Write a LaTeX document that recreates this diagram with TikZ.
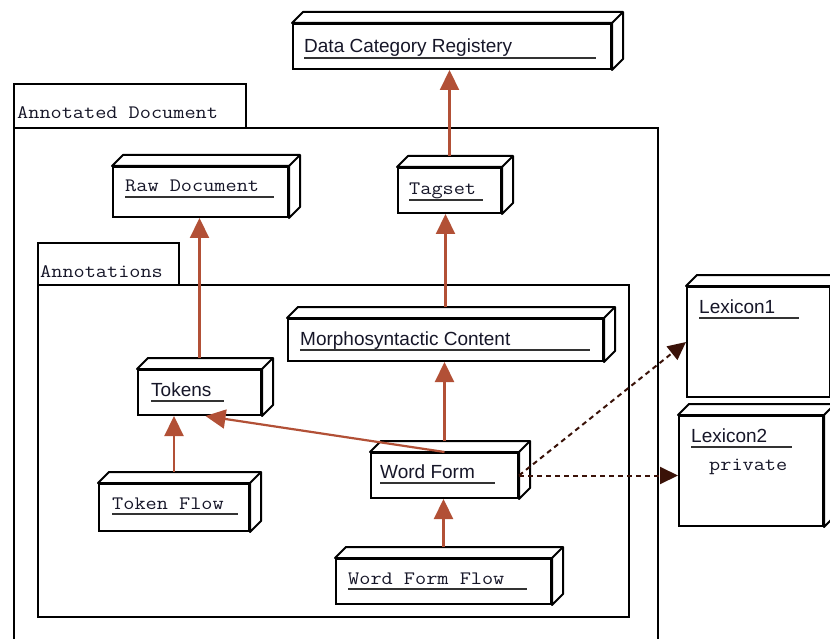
\documentclass[tikz,border=0pt]{standalone}
\usepackage{fontspec}
\setmainfont{Liberation Sans}
\setmonofont{Latin Modern Mono}[FakeStretch=1.14]
\usepackage{tikz}
\usetikzlibrary{arrows.meta}
\definecolor{deparrow}{RGB}{178,80,54}
\definecolor{usearrow}{RGB}{58,18,8}
\definecolor{labeltext}{RGB}{22,22,40}
\tikzset{
  umlpkg/.style  = {draw, line width=2pt, fill=white, anchor=north west, inner sep=0pt},
  umlnode/.style = {draw, line width=2pt, fill=white, anchor=north west, inner sep=0pt},
  nodelab/.style = {anchor=base west, inner sep=0pt, text=labeltext,
                    font=\fontsize{19}{23}\selectfont},
  monolab/.style = {nodelab, font=\fontsize{19}{23}\selectfont\ttfamily},
  uline/.style   = {line width=1.3pt, black!80},
  dep/.style     = {-{Triangle[length=20pt,width=19pt]}, line width=2.2pt, deparrow},
  uses/.style    = {-{Triangle[length=18pt,width=17pt]}, line width=2pt, usearrow,
                    dash pattern=on 5pt off 4pt},
}
% top and side face of a uml node
\newcommand{\nodedepth}[1]{%
  \filldraw[fill=white, line width=2pt, line join=round]
    (#1.north west) -- ++(11pt,11pt) -- ([shift={(11pt,11pt)}]#1.north east)
    -- ([shift={(11pt,11pt)}]#1.south east) -- (#1.south east) -- (#1.north east) -- cycle;
  \draw[line width=2pt] (#1.north east) -- ++(11pt,11pt);}
% label with its underline
\newcommand{\nodelabel}[5][nodelab]{%
  \node[#1] (#2) at (#3) {#4};
  \draw[uline] ([yshift=-5pt]#2.base west) -- ++(#5pt,0);}

\begin{document}
\begin{tikzpicture}[x=1pt, y=-1pt]
\useasboundingbox (0,0) rectangle (830,639);
\clip (0,0) rectangle (830,639);

% packages
\node[umlpkg, minimum width=232pt, minimum height=44pt]  (adtab)  at (13,83)  {};
\node[umlpkg, minimum width=644pt, minimum height=540pt] (adbody) at (13,127) {};
\node[monolab] (adlab) at (17,119) {Annotated Document};
\node[umlpkg, minimum width=141pt, minimum height=42pt]  (antab)  at (37,242) {};
\node[umlpkg, minimum width=591pt, minimum height=332pt] (anbody) at (37,284) {};
\node[monolab] (anlab) at (40,277) {Annotations};

% uml nodes
\node[umlnode, minimum width=318pt, minimum height=45pt]  (dcr)      at (292,23)  {};
\node[umlnode, minimum width=175pt, minimum height=50pt]  (raw)      at (112,166) {};
\node[umlnode, minimum width=103pt, minimum height=45pt]  (tagset)   at (397,167) {};
\node[umlnode, minimum width=315pt, minimum height=42pt]  (morph)    at (287,318) {};
\node[umlnode, minimum width=123pt, minimum height=45pt]  (tokens)   at (137,369) {};
\node[umlnode, minimum width=150pt, minimum height=47pt]  (tokflow)  at (98,483)  {};
\node[umlnode, minimum width=147pt, minimum height=45pt]  (wordform) at (370,452) {};
\node[umlnode, minimum width=215pt, minimum height=45pt]  (wfflow)   at (335,558) {};
\node[umlnode, minimum width=143pt, minimum height=110pt] (lex1)     at (686,286) {};
\node[umlnode, minimum width=144pt, minimum height=110pt] (lex2)     at (678,415) {};
\foreach \n in {dcr,raw,tagset,morph,tokens,tokflow,wordform,wfflow,lex1,lex2}
  {\nodedepth{\n}}

% labels
\nodelabel{dcrlab}{304,53}{Data Category Registery}{292}
\nodelabel[monolab]{rawlab}{125,192}{Raw Document}{149}
\nodelabel[monolab]{taglab}{409,195}{Tagset}{74}
\nodelabel{morphlab}{300,345}{Morphosyntactic Content}{290}
\nodelabel{toklab}{151,396}{Tokens}{73}
\nodelabel[monolab]{tflab}{112,509}{Token Flow}{126}
\nodelabel{wflab}{380,478}{Word Form}{115}
\nodelabel[monolab]{wfflab}{348,584}{Word Form Flow}{179}
\nodelabel{lex1lab}{699,313}{Lexicon1}{100}
\nodelabel{lex2lab}{691,442}{Lexicon2}{101}
\node[monolab] (privlab) at (709,470) {private};

% dependencies
\draw[dep] ([yshift=11pt]tagset.north) -- (tagset.north |- dcr.south);
\draw[dep] ([yshift=11pt]morph.north) -- (morph.north |- tagset.south);
\draw[dep] ([yshift=11pt]tokens.north) -- (tokens.north |- raw.south);
\draw[dep] ([yshift=11pt]tokflow.north) -- (tokflow.north |- tokens.south);
\draw[dep] ([yshift=11pt]wordform.north) -- (wordform.north |- morph.south);
\draw[dep] ([yshift=11pt]wfflow.north) -- (wfflow.north |- wordform.south);
\draw[dep] (wordform.north) -- ([xshift=6pt]tokens.south);
\draw[uses] (wordform.east) -- (lex1.west);
\draw[uses] (wordform.east) -- (wordform.east -| lex2.west);
\end{tikzpicture}
\end{document}
